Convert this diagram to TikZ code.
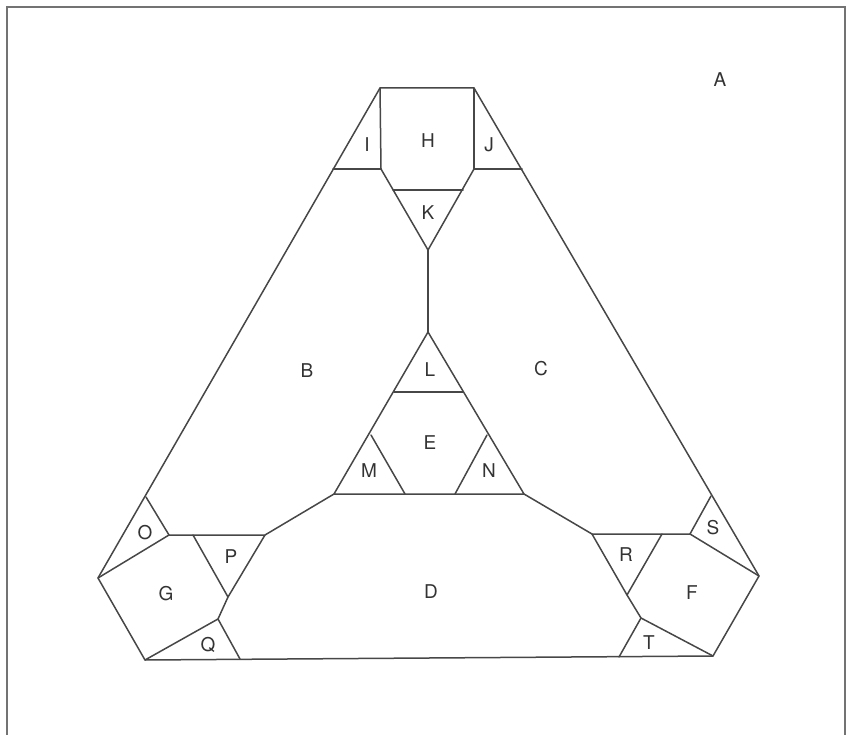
\documentclass[tikz,border=0pt]{standalone}
\usepackage{fontspec}
\setmainfont{TeX Gyre Heros}
\begin{document}
\begin{tikzpicture}[x=1pt,y=-1pt,
  edge/.style={draw=black!72,line width=1.5pt,line cap=round,line join=round},
  frame/.style={draw=black!55,line width=1.1pt},
  lab/.style={font=\fontsize{19}{22}\selectfont,text=black!80,inner sep=0pt}]
\useasboundingbox (0,0) rectangle (852,735);
% frame
\draw[frame] (7,735) -- (7,7) -- (845,7) -- (845,735);
% coordinates
\coordinate (Htl) at (380,88);
\coordinate (Htr) at (474,88);
\coordinate (Hbl) at (381,169);
\coordinate (Hbr) at (474,169);
\coordinate (Il) at (333,169);
\coordinate (Jr) at (522,169);
\coordinate (Kl) at (393,190);
\coordinate (Kr) at (463,190);
\coordinate (Kb) at (428,250);
\coordinate (Lt) at (428,332);
\coordinate (Ll) at (394,392);
\coordinate (Lr) at (463,392);
\coordinate (Mt) at (371,435);
\coordinate (Mr) at (405,494);
\coordinate (Nt) at (487,435);
\coordinate (Nl) at (455,494);
\coordinate (Eb1) at (334,494);
\coordinate (Eb2) at (524,494);
% left corner
\coordinate (Ot) at (146,497);
\coordinate (Gt) at (169,535);
\coordinate (Gl) at (98,578);
\coordinate (Gb) at (145,660);
\coordinate (Gr) at (218,619);
\coordinate (Pl) at (193,535);
\coordinate (Pr) at (265,535);
\coordinate (Pb) at (228,597);
\coordinate (Qr) at (240,659);
% right corner
\coordinate (Rl) at (592,534);
\coordinate (Rr) at (662,534);
\coordinate (Rb) at (627,595);
\coordinate (Fl) at (641,618);
\coordinate (Ft) at (690,534);
\coordinate (St) at (711,496);
\coordinate (Fr) at (759,576);
\coordinate (Fb) at (713,656);
\coordinate (Tl) at (619,657);
% outer boundary
\draw[edge] (Gl) -- (Htl) -- (Htr) -- (Fr) -- (Fb) -- (Gb) -- cycle;
% top: H, I, J, K
\draw[edge] (Htl) -- (Hbl);
\draw[edge] (Htr) -- (Hbr);
\draw[edge] (Il) -- (Hbl);
\draw[edge] (Hbr) -- (Jr);
\draw[edge] (Hbl) -- (Kb) -- (Hbr);
\draw[edge] (Kl) -- (Kr);
\draw[edge] (Kb) -- (Lt);
% centre: L, E, M, N
\draw[edge] (Lt) -- (Eb1) -- (Eb2) -- cycle;
\draw[edge] (Ll) -- (Lr);
\draw[edge] (Mt) -- (Mr);
\draw[edge] (Nt) -- (Nl);
% links to corners
\draw[edge] (Eb1) -- (Pr);
\draw[edge] (Eb2) -- (Rl);
% left corner: O, G, P, Q
\draw[edge] (Ot) -- (Gt) -- (Gl);
\draw[edge] (Gt) -- (Pr) -- (Pb) -- (Gr) -- (Gb);
\draw[edge] (Pl) -- (Pb);
\draw[edge] (Gr) -- (Qr);
% right corner: R, F, S, T
\draw[edge] (Rl) -- (Ft) -- (St);
\draw[edge] (Ft) -- (Fr);
\draw[edge] (Rl) -- (Rb) -- (Fl) -- (Fb);
\draw[edge] (Rr) -- (Rb);
\draw[edge] (Fl) -- (Tl);
% labels
\node[lab] (A) at (720,80) {A};
\node[lab] (B) at (307,371) {B};
\node[lab] (C) at (541,369) {C};
\node[lab] (D) at (431,592) {D};
\node[lab] (E) at (430,443) {E};
\node[lab] (F) at (692,593) {F};
\node[lab] (G) at (166,594) {G};
\node[lab] (H) at (428,141) {H};
\node[lab] (I) at (367,145) {I};
\node[lab] (J) at (489,145) {J};
\node[lab] (K) at (428,213) {K};
\node[lab] (L) at (430,370) {L};
\node[lab] (M) at (369,471) {M};
\node[lab] (N) at (489,471) {N};
\node[lab] (O) at (145,533) {O};
\node[lab] (P) at (231,557) {P};
\node[lab] (Q) at (208,645) {Q};
\node[lab] (R) at (626,555) {R};
\node[lab] (S) at (713,528) {S};
\node[lab] (T) at (649,643) {T};
\end{tikzpicture}
\end{document}
